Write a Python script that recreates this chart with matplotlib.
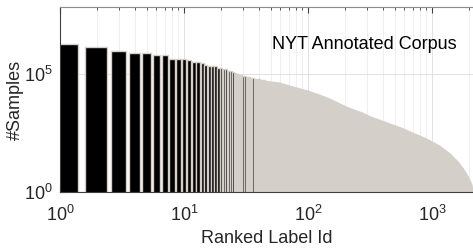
import matplotlib.pyplot as plt
import numpy as np

plt.rcParams['font.family'] = ['Liberation Sans', 'DejaVu Sans']
plt.rcParams['mathtext.default'] = 'regular'

# top ranked labels, one bar each
ranks = np.arange(1, 46)
counts = [1.86e6, 1.35e6, 1.0e6, 7.9e5, 7.8e5, 6.4e5, 6.2e5, 4.5e5, 4.5e5, 4.4e5,
          3.8e5, 3.3e5, 3.2e5, 3.05e5, 2.35e5, 2.3e5, 2.15e5, 2.1e5, 1.86e5, 1.78e5,
          1.66e5, 1.58e5, 1.38e5, 1.33e5, 1.25e5, 1.07e5, 9.8e4, 9.5e4, 8.9e4, 8.5e4,
          8.3e4, 7.9e4, 7.7e4, 7.4e4, 7.0e4, 6.7e4, 6.5e4, 6.3e4, 6.2e4, 6.0e4,
          5.9e4, 5.8e4, 5.7e4, 5.6e4, 5.5e4]

# long tail, bars too thin to tell apart: profile of their tops
tail_rank = [45, 59, 76, 100, 124, 150, 181, 218, 275, 315, 458, 580, 667,
             905, 1150, 1400, 1630, 1800, 1980, 2100, 2150]
tail_count = [5.5e4, 4.6e4, 3.1e4, 2.1e4, 1.42e4, 9.6e3, 5.9e3, 3.8e3, 2.45e3,
              1.74e3, 840, 540, 385, 194, 98, 45, 20, 10, 4.4, 2.2, 1.2]

gray = '#d4d0c9'

fig = plt.figure(figsize=(4.73, 2.48), dpi=100)
ax = fig.add_axes([0.1268, 0.2258, 0.8732, 0.746])

ax.bar(ranks, counts, width=0.8, color='k', edgecolor=gray, linewidth=1.0, zorder=2)
ax.fill_between(tail_rank, tail_count, 1, color=gray, linewidth=0, zorder=2)

ax.set_xscale('log')
ax.set_yscale('log')
ax.set_xlim(1, 2143)
ax.set_ylim(1, 7e7)
ax.set_yticks([1, 1e5])
ax.yaxis.set_minor_locator(plt.NullLocator())

ax.grid(which='major', axis='both', color='#dddddd', linewidth=0.6, zorder=0)
ax.grid(which='minor', axis='x', color='#ececec', linewidth=0.6, zorder=0)
ax.set_axisbelow(True)

ax.tick_params(which='both', direction='in', top=True, right=False,
               labelsize=13, color='#404040', labelcolor='#262626')
ax.tick_params(which='major', length=4)
ax.tick_params(which='minor', length=2)
ax.tick_params(axis='x', which='major', pad=9)
ax.tick_params(axis='y', which='major', pad=5)
for s in ['left', 'bottom']:
    ax.spines[s].set_color('#404040')
ax.spines['top'].set_color('#8c8c8c')
ax.spines['right'].set_visible(False)

ax.set_xlabel('Ranked Label Id', fontsize=13, color='#262626', labelpad=4)
ax.set_ylabel('#Samples', fontsize=13, color='#262626', labelpad=0)
ax.text(0.738, 0.795, 'NYT Annotated Corpus', transform=ax.transAxes,
        ha='center', va='center', fontsize=13, color='k')

fig.savefig('out.png')
